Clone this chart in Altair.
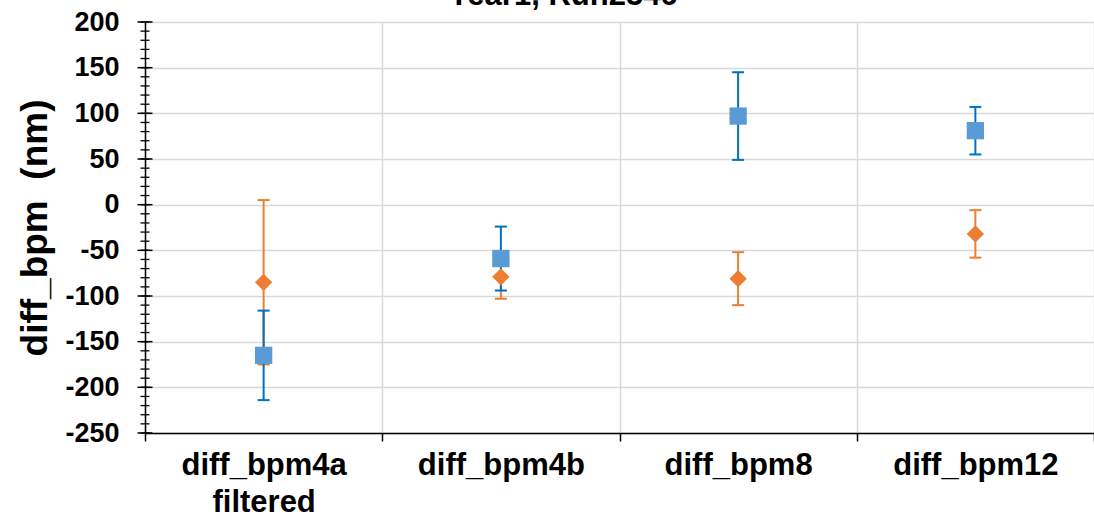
import altair as alt
import pandas as pd

# Category labels and the two measured series (mean and error half-width, nm)
categories = ["diff_bpm4a filtered", "diff_bpm4b", "diff_bpm8", "diff_bpm12"]
blue_mean = [-165, -59, 97, 81]
blue_err = [49, 35, 48, 26]
orange_mean = [-85, -79, -81, -32]
orange_err = [90, 24, 29, 26]

y_major = list(range(-250, 201, 50))
y_minor = list(range(-250, 201, 10))
title_text = ["Year1, Run2546"]

BLUE_FILL = "#5b9bd5"
BLUE_LINE = "#0070c0"
ORANGE = "#ed7d31"
FONT = "Liberation Sans"


def frame(means, errs):
    return pd.DataFrame({
        "cat": categories,
        "mean": means,
        "lo": [m - e for m, e in zip(means, errs)],
        "hi": [m + e for m, e in zip(means, errs)],
    })


blue = frame(blue_mean, blue_err)
orange = frame(orange_mean, orange_err)

x_axis = alt.Axis(
    title=None, tickBand="extent", grid=True, gridColor="#d9d9d9", gridWidth=1.5,
    domainColor="black", domainWidth=1.5, tickColor="black", tickSize=8, tickWidth=1.5,
    labelFont=FONT, labelFontSize=31, labelFontWeight="bold", labelColor="black",
    labelPadding=9, labelLineHeight=37, labelLimit=400, labelAngle=0,
    labelExpr="split(datum.label, ' ')",
)
y_axis = alt.Axis(
    title="diff_bpm\u00a0\u00a0(nm)", values=y_major, grid=True, gridColor="#d9d9d9",
    gridWidth=1.5, domainColor="black", domainWidth=1.5, ticks=False,
    labelFont=FONT, labelFontSize=27, labelFontWeight="bold", labelColor="black",
    labelPadding=26, labelExpr="datum.value + ''",
    titleFont=FONT, titleFontSize=37, titleFontWeight="bold",
    titleColor="black", titlePadding=10,
)
x_scale = alt.Scale(paddingInner=0, paddingOuter=0)
y_scale = alt.Scale(domain=[-250, 200], nice=False, zero=False)


def xenc():
    return alt.X("cat:N", sort=categories, scale=x_scale, axis=x_axis)


def yenc(field):
    return alt.Y(field, scale=y_scale, axis=y_axis)


# Crossing tick marks on the y axis line
ticks_df = pd.DataFrame({"v": y_minor})
major_df = pd.DataFrame({"v": y_major})
minor_ticks = alt.Chart(ticks_df).mark_rule(color="black", strokeWidth=1.3).encode(
    y=yenc("v:Q"), x=alt.value(-4.5), x2=alt.value(4.5))
major_ticks = alt.Chart(major_df).mark_rule(color="black", strokeWidth=1.5).encode(
    y=yenc("v:Q"), x=alt.value(-7.5), x2=alt.value(7.5))


def error_bars(df, color):
    base = alt.Chart(df)
    stem = base.mark_rule(color=color, strokeWidth=2).encode(
        x=xenc(), y=yenc("lo:Q"), y2="hi:Q")
    caps = base.transform_fold(["lo", "hi"], as_=["end", "val"]).mark_tick(
        color=color, orient="horizontal", size=12, thickness=2, opacity=1).encode(
        x=xenc(), y=yenc("val:Q"))
    return stem + caps


squares = alt.Chart(blue).mark_square(size=300, color=BLUE_FILL, opacity=1).encode(
    x=xenc(), y=yenc("mean:Q"))
diamonds = alt.Chart(orange).mark_point(
    shape="diamond", size=300, filled=True, color=ORANGE, opacity=1).encode(
    x=xenc(), y=yenc("mean:Q"))

# Chart heading, set above the plot frame (its upper part falls outside the page)
heading = alt.Chart(pd.DataFrame({"t": title_text})).mark_text(
    font=FONT, fontSize=31, fontWeight="bold", color="black",
    align="center", baseline="alphabetic").encode(
    text="t:N", x=alt.value(418), y=alt.value(-17))

chart = alt.layer(
    minor_ticks, major_ticks,
    error_bars(orange, ORANGE), error_bars(blue, BLUE_LINE),
    squares, diamonds, heading,
).properties(
    width=949, height=411,
    autosize="none",
    padding={"left": 145, "top": 22, "right": 0, "bottom": 89},
).configure_view(stroke=None)

chart.save("out.html", embed_options={"renderer": "svg", "actions": False})
